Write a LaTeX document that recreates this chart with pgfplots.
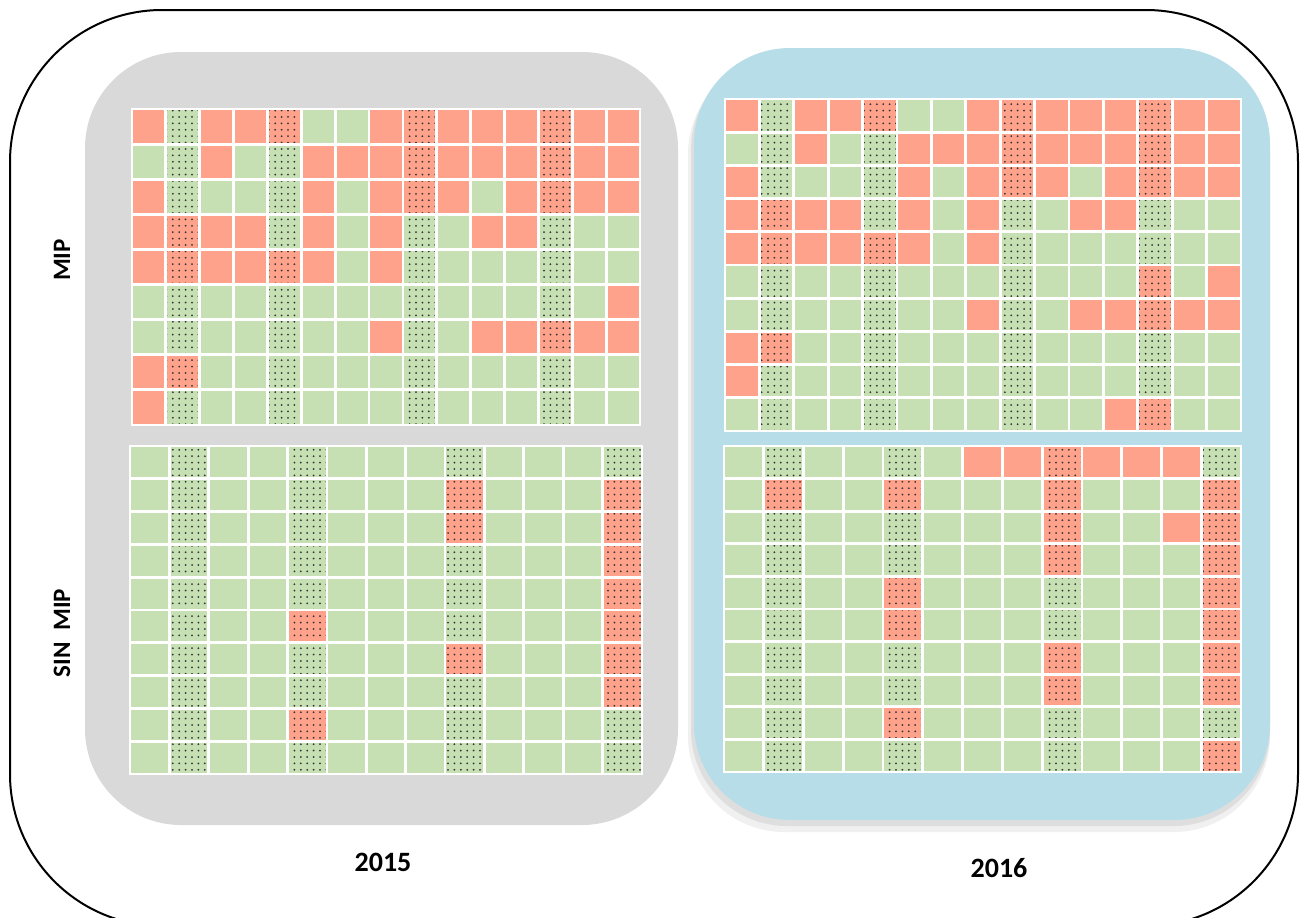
\documentclass[border=0pt]{standalone}
\usepackage{fontspec}
\setmainfont{Carlito}
\usepackage{pgfplots}
\pgfplotsset{compat=1.18}
\usetikzlibrary{patterns.meta}

\definecolor{cellred}{RGB}{255,162,139}
\definecolor{cellgreen}{RGB}{198,224,180}
\definecolor{panelgray}{RGB}{217,217,217}
\definecolor{panelblue}{RGB}{183,222,232}

% 1 px of the reference = 0.5pt, origin top left, y going down as -y
\pgfplotsset{
  cells/.style={
    scale only axis, anchor=north west,
    y dir=reverse, enlargelimits=false,
    axis on top,
    xticklabels={}, yticklabels={},
    major tick length=0pt,
    grid=major,
    major grid style={white, line width=1.4pt},
    axis line style={white, line width=1.4pt},
    colormap={redgreen}{color=(cellgreen) color=(cellred)},
    point meta min=0, point meta max=1,
  },
  dotcol/.style={draw=none, pattern={Dots[distance=3.2pt, radius=0.5pt]}, pattern color=black!80},
}

\begin{document}
\begin{tikzpicture}
\begin{scope}
\clip (0,0) rectangle (651pt,-458.5pt);
% outer frame
\draw[line width=1pt, rounded corners=76pt] (5pt,-5pt) rectangle (649pt,-463pt);
% 2015 panel
\fill[panelgray, rounded corners=48pt] (42.5pt,-26pt) rectangle (339pt,-412.5pt);
% 2016 panel with soft shadow
\fill[black!6, rounded corners=48pt] (344pt,-29pt) rectangle (635pt,-416pt);
\fill[black!13, rounded corners=48pt] (345.5pt,-27pt) rectangle (635pt,-413pt);
\fill[panelblue, rounded corners=48pt] (347pt,-24pt) rectangle (635pt,-410pt);
\end{scope}

\node[font=\bfseries\fontsize{12.5}{14}\selectfont, rotate=90] at (31pt,-130pt) {MIP};
\node[font=\bfseries\fontsize{12.5}{14}\selectfont, rotate=90] at (31pt,-316.5pt) {SIN\hspace{0.45em}MIP};
\node[font=\bfseries\fontsize{14}{16}\selectfont] at (191.5pt,-431pt) {2015};
\node[font=\bfseries\fontsize{14}{16}\selectfont] at (499.5pt,-434pt) {2016};

% 2015 MIP
\begin{axis}[cells, at={(66pt,-54.5pt)}, width=254pt, height=158pt,
  xmin=0.5, xmax=15.5, ymin=0.5, ymax=9.5,
  xtick={1.5,2.5,...,14.5}, ytick={1.5,2.5,...,8.5}]
\addplot[matrix plot*, mesh/cols=15, point meta=explicit] coordinates {
(1,1)[1] (2,1)[0] (3,1)[1] (4,1)[1] (5,1)[1] (6,1)[0] (7,1)[0] (8,1)[1] (9,1)[1] (10,1)[1] (11,1)[1] (12,1)[1] (13,1)[1] (14,1)[1] (15,1)[1]
(1,2)[0] (2,2)[0] (3,2)[1] (4,2)[0] (5,2)[0] (6,2)[1] (7,2)[1] (8,2)[1] (9,2)[1] (10,2)[1] (11,2)[1] (12,2)[1] (13,2)[1] (14,2)[1] (15,2)[1]
(1,3)[1] (2,3)[0] (3,3)[0] (4,3)[0] (5,3)[0] (6,3)[1] (7,3)[0] (8,3)[1] (9,3)[1] (10,3)[1] (11,3)[0] (12,3)[1] (13,3)[1] (14,3)[1] (15,3)[1]
(1,4)[1] (2,4)[1] (3,4)[1] (4,4)[1] (5,4)[0] (6,4)[1] (7,4)[0] (8,4)[1] (9,4)[0] (10,4)[0] (11,4)[1] (12,4)[1] (13,4)[0] (14,4)[0] (15,4)[0]
(1,5)[1] (2,5)[1] (3,5)[1] (4,5)[1] (5,5)[1] (6,5)[1] (7,5)[0] (8,5)[1] (9,5)[0] (10,5)[0] (11,5)[0] (12,5)[0] (13,5)[0] (14,5)[0] (15,5)[0]
(1,6)[0] (2,6)[0] (3,6)[0] (4,6)[0] (5,6)[0] (6,6)[0] (7,6)[0] (8,6)[0] (9,6)[0] (10,6)[0] (11,6)[0] (12,6)[0] (13,6)[0] (14,6)[0] (15,6)[1]
(1,7)[0] (2,7)[0] (3,7)[0] (4,7)[0] (5,7)[0] (6,7)[0] (7,7)[0] (8,7)[1] (9,7)[0] (10,7)[0] (11,7)[1] (12,7)[1] (13,7)[1] (14,7)[1] (15,7)[1]
(1,8)[1] (2,8)[1] (3,8)[0] (4,8)[0] (5,8)[0] (6,8)[0] (7,8)[0] (8,8)[0] (9,8)[0] (10,8)[0] (11,8)[0] (12,8)[0] (13,8)[0] (14,8)[0] (15,8)[0]
(1,9)[1] (2,9)[0] (3,9)[0] (4,9)[0] (5,9)[0] (6,9)[0] (7,9)[0] (8,9)[0] (9,9)[0] (10,9)[0] (11,9)[0] (12,9)[0] (13,9)[0] (14,9)[0] (15,9)[0]
};
\addplot[dotcol] coordinates {(1.5,0.5) (2.5,0.5) (2.5,9.5) (1.5,9.5)} --cycle;
\addplot[dotcol] coordinates {(4.5,0.5) (5.5,0.5) (5.5,9.5) (4.5,9.5)} --cycle;
\addplot[dotcol] coordinates {(8.5,0.5) (9.5,0.5) (9.5,9.5) (8.5,9.5)} --cycle;
\addplot[dotcol] coordinates {(12.5,0.5) (13.5,0.5) (13.5,9.5) (12.5,9.5)} --cycle;
\end{axis}

% 2016 MIP
\begin{axis}[cells, at={(362.5pt,-49.5pt)}, width=258pt, height=166pt,
  xmin=0.5, xmax=15.5, ymin=0.5, ymax=10.5,
  xtick={1.5,2.5,...,14.5}, ytick={1.5,2.5,...,9.5}]
\addplot[matrix plot*, mesh/cols=15, point meta=explicit] coordinates {
(1,1)[1] (2,1)[0] (3,1)[1] (4,1)[1] (5,1)[1] (6,1)[0] (7,1)[0] (8,1)[1] (9,1)[1] (10,1)[1] (11,1)[1] (12,1)[1] (13,1)[1] (14,1)[1] (15,1)[1]
(1,2)[0] (2,2)[0] (3,2)[1] (4,2)[0] (5,2)[0] (6,2)[1] (7,2)[1] (8,2)[1] (9,2)[1] (10,2)[1] (11,2)[1] (12,2)[1] (13,2)[1] (14,2)[1] (15,2)[1]
(1,3)[1] (2,3)[0] (3,3)[0] (4,3)[0] (5,3)[0] (6,3)[1] (7,3)[0] (8,3)[1] (9,3)[1] (10,3)[1] (11,3)[0] (12,3)[1] (13,3)[1] (14,3)[1] (15,3)[1]
(1,4)[1] (2,4)[1] (3,4)[1] (4,4)[1] (5,4)[0] (6,4)[1] (7,4)[0] (8,4)[1] (9,4)[0] (10,4)[0] (11,4)[1] (12,4)[1] (13,4)[0] (14,4)[0] (15,4)[0]
(1,5)[1] (2,5)[1] (3,5)[1] (4,5)[1] (5,5)[1] (6,5)[1] (7,5)[0] (8,5)[1] (9,5)[0] (10,5)[0] (11,5)[0] (12,5)[0] (13,5)[0] (14,5)[0] (15,5)[0]
(1,6)[0] (2,6)[0] (3,6)[0] (4,6)[0] (5,6)[0] (6,6)[0] (7,6)[0] (8,6)[0] (9,6)[0] (10,6)[0] (11,6)[0] (12,6)[0] (13,6)[1] (14,6)[0] (15,6)[1]
(1,7)[0] (2,7)[0] (3,7)[0] (4,7)[0] (5,7)[0] (6,7)[0] (7,7)[0] (8,7)[1] (9,7)[0] (10,7)[0] (11,7)[1] (12,7)[1] (13,7)[1] (14,7)[1] (15,7)[1]
(1,8)[1] (2,8)[1] (3,8)[0] (4,8)[0] (5,8)[0] (6,8)[0] (7,8)[0] (8,8)[0] (9,8)[0] (10,8)[0] (11,8)[0] (12,8)[0] (13,8)[0] (14,8)[0] (15,8)[0]
(1,9)[1] (2,9)[0] (3,9)[0] (4,9)[0] (5,9)[0] (6,9)[0] (7,9)[0] (8,9)[0] (9,9)[0] (10,9)[0] (11,9)[0] (12,9)[0] (13,9)[0] (14,9)[0] (15,9)[0]
(1,10)[0] (2,10)[0] (3,10)[0] (4,10)[0] (5,10)[0] (6,10)[0] (7,10)[0] (8,10)[0] (9,10)[0] (10,10)[0] (11,10)[0] (12,10)[1] (13,10)[1] (14,10)[0] (15,10)[0]
};
\addplot[dotcol] coordinates {(1.5,0.5) (2.5,0.5) (2.5,10.5) (1.5,10.5)} --cycle;
\addplot[dotcol] coordinates {(4.5,0.5) (5.5,0.5) (5.5,10.5) (4.5,10.5)} --cycle;
\addplot[dotcol] coordinates {(8.5,0.5) (9.5,0.5) (9.5,10.5) (8.5,10.5)} --cycle;
\addplot[dotcol] coordinates {(12.5,0.5) (13.5,0.5) (13.5,10.5) (12.5,10.5)} --cycle;
\end{axis}

% 2015 SIN MIP
\begin{axis}[cells, at={(65pt,-223pt)}, width=256pt, height=164pt,
  xmin=0.5, xmax=13.5, ymin=0.5, ymax=10.5,
  xtick={1.5,2.5,...,12.5}, ytick={1.5,2.5,...,9.5}]
\addplot[matrix plot*, mesh/cols=13, point meta=explicit] coordinates {
(1,1)[0] (2,1)[0] (3,1)[0] (4,1)[0] (5,1)[0] (6,1)[0] (7,1)[0] (8,1)[0] (9,1)[0] (10,1)[0] (11,1)[0] (12,1)[0] (13,1)[0]
(1,2)[0] (2,2)[0] (3,2)[0] (4,2)[0] (5,2)[0] (6,2)[0] (7,2)[0] (8,2)[0] (9,2)[1] (10,2)[0] (11,2)[0] (12,2)[0] (13,2)[1]
(1,3)[0] (2,3)[0] (3,3)[0] (4,3)[0] (5,3)[0] (6,3)[0] (7,3)[0] (8,3)[0] (9,3)[1] (10,3)[0] (11,3)[0] (12,3)[0] (13,3)[1]
(1,4)[0] (2,4)[0] (3,4)[0] (4,4)[0] (5,4)[0] (6,4)[0] (7,4)[0] (8,4)[0] (9,4)[0] (10,4)[0] (11,4)[0] (12,4)[0] (13,4)[1]
(1,5)[0] (2,5)[0] (3,5)[0] (4,5)[0] (5,5)[0] (6,5)[0] (7,5)[0] (8,5)[0] (9,5)[0] (10,5)[0] (11,5)[0] (12,5)[0] (13,5)[1]
(1,6)[0] (2,6)[0] (3,6)[0] (4,6)[0] (5,6)[1] (6,6)[0] (7,6)[0] (8,6)[0] (9,6)[0] (10,6)[0] (11,6)[0] (12,6)[0] (13,6)[1]
(1,7)[0] (2,7)[0] (3,7)[0] (4,7)[0] (5,7)[0] (6,7)[0] (7,7)[0] (8,7)[0] (9,7)[1] (10,7)[0] (11,7)[0] (12,7)[0] (13,7)[1]
(1,8)[0] (2,8)[0] (3,8)[0] (4,8)[0] (5,8)[0] (6,8)[0] (7,8)[0] (8,8)[0] (9,8)[0] (10,8)[0] (11,8)[0] (12,8)[0] (13,8)[1]
(1,9)[0] (2,9)[0] (3,9)[0] (4,9)[0] (5,9)[1] (6,9)[0] (7,9)[0] (8,9)[0] (9,9)[0] (10,9)[0] (11,9)[0] (12,9)[0] (13,9)[0]
(1,10)[0] (2,10)[0] (3,10)[0] (4,10)[0] (5,10)[0] (6,10)[0] (7,10)[0] (8,10)[0] (9,10)[0] (10,10)[0] (11,10)[0] (12,10)[0] (13,10)[0]
};
\addplot[dotcol] coordinates {(1.5,0.5) (2.5,0.5) (2.5,10.5) (1.5,10.5)} --cycle;
\addplot[dotcol] coordinates {(4.5,0.5) (5.5,0.5) (5.5,10.5) (4.5,10.5)} --cycle;
\addplot[dotcol] coordinates {(8.5,0.5) (9.5,0.5) (9.5,10.5) (8.5,10.5)} --cycle;
\addplot[dotcol] coordinates {(12.5,0.5) (13.5,0.5) (13.5,10.5) (12.5,10.5)} --cycle;
\end{axis}

% 2016 SIN MIP
\begin{axis}[cells, at={(362pt,-223pt)}, width=258.5pt, height=163pt,
  xmin=0.5, xmax=13.5, ymin=0.5, ymax=10.5,
  xtick={1.5,2.5,...,12.5}, ytick={1.5,2.5,...,9.5}]
\addplot[matrix plot*, mesh/cols=13, point meta=explicit] coordinates {
(1,1)[0] (2,1)[0] (3,1)[0] (4,1)[0] (5,1)[0] (6,1)[0] (7,1)[1] (8,1)[1] (9,1)[1] (10,1)[1] (11,1)[1] (12,1)[1] (13,1)[0]
(1,2)[0] (2,2)[1] (3,2)[0] (4,2)[0] (5,2)[1] (6,2)[0] (7,2)[0] (8,2)[0] (9,2)[1] (10,2)[0] (11,2)[0] (12,2)[0] (13,2)[1]
(1,3)[0] (2,3)[0] (3,3)[0] (4,3)[0] (5,3)[0] (6,3)[0] (7,3)[0] (8,3)[0] (9,3)[1] (10,3)[0] (11,3)[0] (12,3)[1] (13,3)[1]
(1,4)[0] (2,4)[0] (3,4)[0] (4,4)[0] (5,4)[0] (6,4)[0] (7,4)[0] (8,4)[0] (9,4)[1] (10,4)[0] (11,4)[0] (12,4)[0] (13,4)[1]
(1,5)[0] (2,5)[0] (3,5)[0] (4,5)[0] (5,5)[1] (6,5)[0] (7,5)[0] (8,5)[0] (9,5)[0] (10,5)[0] (11,5)[0] (12,5)[0] (13,5)[1]
(1,6)[0] (2,6)[0] (3,6)[0] (4,6)[0] (5,6)[1] (6,6)[0] (7,6)[0] (8,6)[0] (9,6)[0] (10,6)[0] (11,6)[0] (12,6)[0] (13,6)[1]
(1,7)[0] (2,7)[0] (3,7)[0] (4,7)[0] (5,7)[0] (6,7)[0] (7,7)[0] (8,7)[0] (9,7)[1] (10,7)[0] (11,7)[0] (12,7)[0] (13,7)[1]
(1,8)[0] (2,8)[0] (3,8)[0] (4,8)[0] (5,8)[0] (6,8)[0] (7,8)[0] (8,8)[0] (9,8)[1] (10,8)[0] (11,8)[0] (12,8)[0] (13,8)[1]
(1,9)[0] (2,9)[0] (3,9)[0] (4,9)[0] (5,9)[1] (6,9)[0] (7,9)[0] (8,9)[0] (9,9)[0] (10,9)[0] (11,9)[0] (12,9)[0] (13,9)[0]
(1,10)[0] (2,10)[0] (3,10)[0] (4,10)[0] (5,10)[0] (6,10)[0] (7,10)[0] (8,10)[0] (9,10)[0] (10,10)[0] (11,10)[0] (12,10)[0] (13,10)[1]
};
\addplot[dotcol] coordinates {(1.5,0.5) (2.5,0.5) (2.5,10.5) (1.5,10.5)} --cycle;
\addplot[dotcol] coordinates {(4.5,0.5) (5.5,0.5) (5.5,10.5) (4.5,10.5)} --cycle;
\addplot[dotcol] coordinates {(8.5,0.5) (9.5,0.5) (9.5,10.5) (8.5,10.5)} --cycle;
\addplot[dotcol] coordinates {(12.5,0.5) (13.5,0.5) (13.5,10.5) (12.5,10.5)} --cycle;
\end{axis}

\pgfresetboundingbox
\path[use as bounding box] (0,0) rectangle (651pt,-458.5pt);
\end{tikzpicture}
\end{document}
